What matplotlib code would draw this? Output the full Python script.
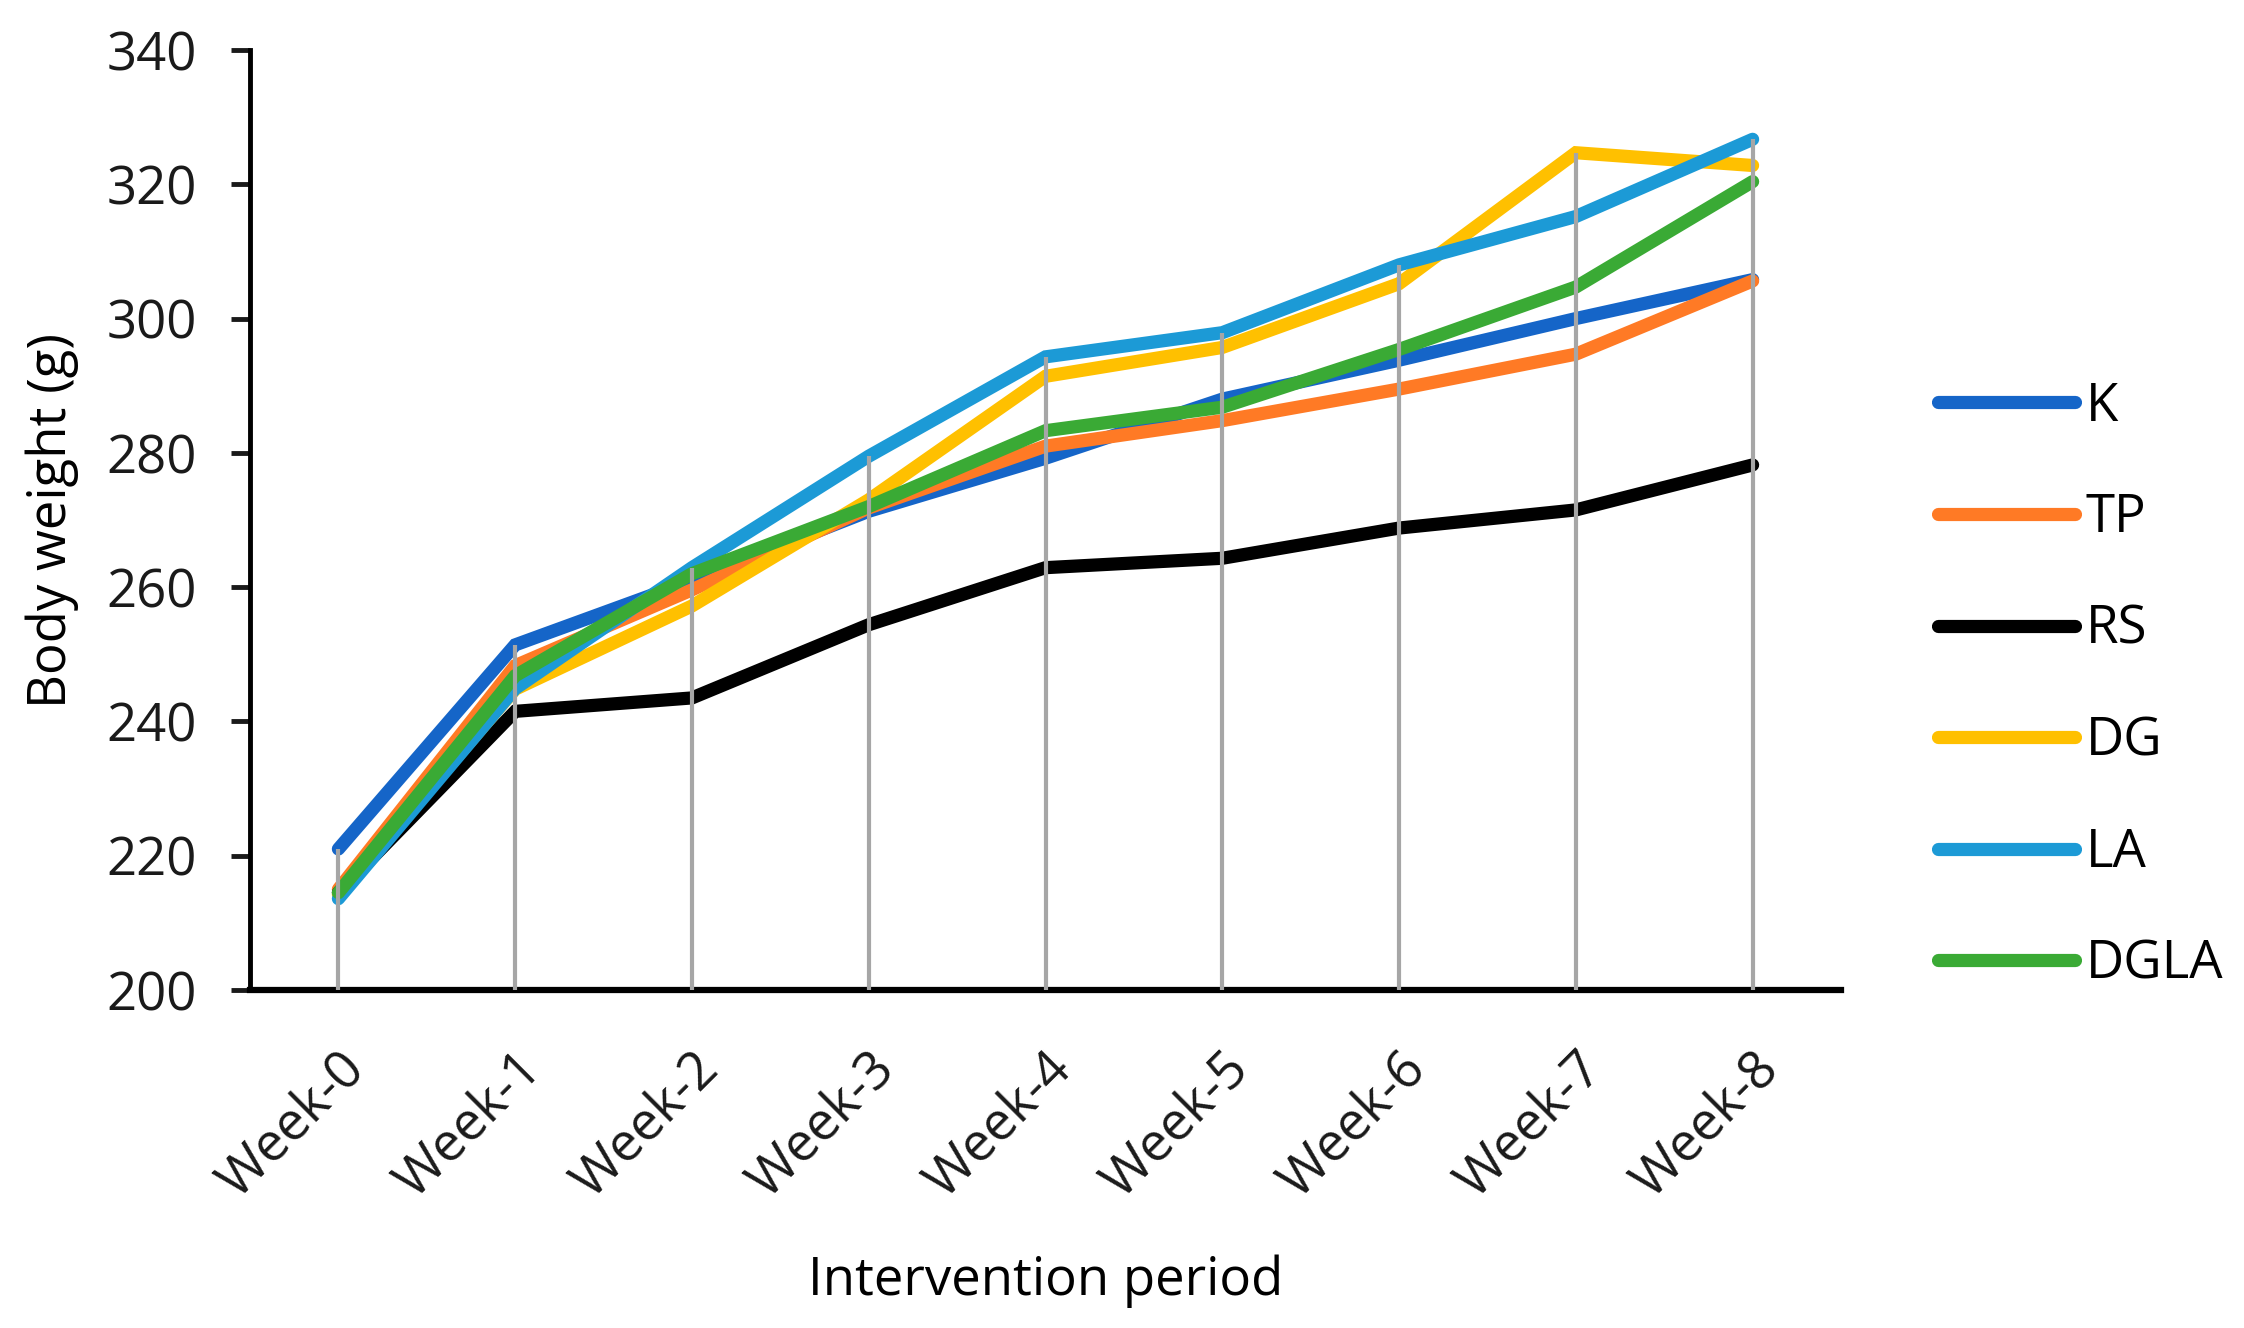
import matplotlib.pyplot as plt

# body weight (g) per week
weeks = ["Week-0", "Week-1", "Week-2", "Week-3", "Week-4", "Week-5", "Week-6", "Week-7", "Week-8"]
K = [221.0, 251.4, 261.0, 271.3, 279.2, 288.0, 293.8, 300.0, 305.8]
TP = [215.0, 248.3, 259.6, 271.8, 281.0, 284.8, 289.5, 294.7, 305.6]
RS = [214.5, 241.5, 243.5, 254.4, 262.9, 264.3, 268.8, 271.5, 278.2]
DG = [214.2, 244.8, 257.2, 273.0, 291.4, 295.7, 305.2, 324.7, 322.8]
LA = [213.6, 244.9, 262.9, 279.5, 294.3, 297.9, 308.0, 315.2, 326.7]
DGLA = [214.5, 246.8, 262.0, 272.0, 283.3, 286.8, 295.4, 304.7, 320.4]

names = ["K", "TP", "RS", "DG", "LA", "DGLA"]
series = [K, TP, RS, DG, LA, DGLA]
colors = ["#1565C8", "#FF7A25", "#000000", "#FFC000", "#1C9AD6", "#3AAA35"]

plt.rcParams['font.family'] = ['Open Sans', 'DejaVu Sans']
fs = 38

fig = plt.figure(figsize=(22.44, 13.28), dpi=100)
ax = fig.add_axes([250 / 2244, 1 - 990 / 1328, (1841 - 250) / 2244, (990 - 50) / 1328])

x = list(range(len(weeks)))
for name, vals, c in zip(names, series, colors):
    ax.plot(x, vals, color=c, lw=9.5, label=name, solid_capstyle='round', solid_joinstyle='miter', zorder=2)

# drop lines from the highest point down to the axis
tops = [max(v) for v in zip(*series)]
ax.vlines(x, 200, tops, color="#A6A6A6", lw=3.0, zorder=3)

ax.set_xlim(-0.5, 8.5)
ax.set_ylim(200, 340)
ax.set_yticks(range(200, 341, 20))
ax.set_xticks(x)
ax.set_xticklabels(weeks, rotation=45, ha='right', va='top', rotation_mode='anchor')

for s in ["top", "right"]:
    ax.spines[s].set_visible(False)
ax.spines["left"].set_linewidth(3.5)
ax.spines["bottom"].set_linewidth(4.5)
ax.tick_params(axis='y', length=14, width=3.5, labelsize=fs, pad=24, colors="#1a1a1a")
ax.tick_params(axis='x', length=0, labelsize=fs, pad=38, colors="#1a1a1a")

ax.set_ylabel("Body weight (g)", fontsize=fs, labelpad=20)
ax.set_xlabel("Intervention period", fontsize=fs, labelpad=32)

leg = ax.legend(loc='center left', bbox_to_anchor=(1938 / 2244, 1 - 686 / 1328),
                bbox_transform=fig.transFigure, frameon=False, fontsize=fs,
                handlelength=2.6, handletextpad=0.2, labelspacing=1.1,
                borderpad=0, borderaxespad=0)
for h in leg.get_lines():
    h.set_linewidth(9.5)
    h.set_solid_capstyle('round')

fig.savefig("out.png", dpi=100)
